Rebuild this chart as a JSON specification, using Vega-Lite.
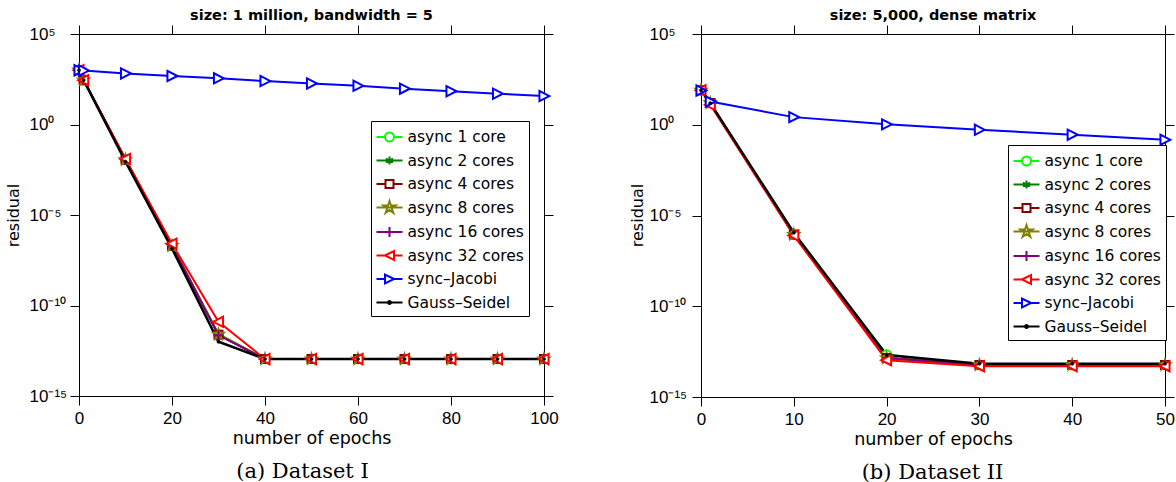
{
  "$schema": "https://vega.github.io/schema/vega-lite/v6.json",
  "background": "white",
  "padding": {"left": 5, "top": 8, "right": 2, "bottom": 0},
  "config": {
    "view": {"stroke": null},
    "axis": {"grid": false, "domainColor": "black", "tickColor": "black", "labelColor": "black", "titleColor": "black", "domainWidth": 1, "tickWidth": 1}
  },
  "data": {"values": [
    {"panel":"I","series":"async 1 core","epoch":0,"residual":1000},
    {"panel":"I","series":"async 1 core","epoch":1,"residual":282},
    {"panel":"I","series":"async 1 core","epoch":10,"residual":0.0112},
    {"panel":"I","series":"async 1 core","epoch":20,"residual":2.0e-7},
    {"panel":"I","series":"async 1 core","epoch":30,"residual":2.6e-12},
    {"panel":"I","series":"async 1 core","epoch":40,"residual":1.1e-13},
    {"panel":"I","series":"async 1 core","epoch":50,"residual":1.1e-13},
    {"panel":"I","series":"async 1 core","epoch":60,"residual":1.1e-13},
    {"panel":"I","series":"async 1 core","epoch":70,"residual":1.1e-13},
    {"panel":"I","series":"async 1 core","epoch":80,"residual":1.1e-13},
    {"panel":"I","series":"async 1 core","epoch":90,"residual":1.1e-13},
    {"panel":"I","series":"async 1 core","epoch":100,"residual":1.1e-13},
    {"panel":"I","series":"async 2 cores","epoch":0,"residual":1000},
    {"panel":"I","series":"async 2 cores","epoch":1,"residual":282},
    {"panel":"I","series":"async 2 cores","epoch":10,"residual":0.0112},
    {"panel":"I","series":"async 2 cores","epoch":20,"residual":2.0e-7},
    {"panel":"I","series":"async 2 cores","epoch":30,"residual":2.5e-12},
    {"panel":"I","series":"async 2 cores","epoch":40,"residual":1.1e-13},
    {"panel":"I","series":"async 2 cores","epoch":50,"residual":1.1e-13},
    {"panel":"I","series":"async 2 cores","epoch":60,"residual":1.1e-13},
    {"panel":"I","series":"async 2 cores","epoch":70,"residual":1.1e-13},
    {"panel":"I","series":"async 2 cores","epoch":80,"residual":1.1e-13},
    {"panel":"I","series":"async 2 cores","epoch":90,"residual":1.1e-13},
    {"panel":"I","series":"async 2 cores","epoch":100,"residual":1.1e-13},
    {"panel":"I","series":"async 4 cores","epoch":0,"residual":1000},
    {"panel":"I","series":"async 4 cores","epoch":1,"residual":282},
    {"panel":"I","series":"async 4 cores","epoch":10,"residual":0.0112},
    {"panel":"I","series":"async 4 cores","epoch":20,"residual":2.0e-7},
    {"panel":"I","series":"async 4 cores","epoch":30,"residual":2.4e-12},
    {"panel":"I","series":"async 4 cores","epoch":40,"residual":1.1e-13},
    {"panel":"I","series":"async 4 cores","epoch":50,"residual":1.1e-13},
    {"panel":"I","series":"async 4 cores","epoch":60,"residual":1.1e-13},
    {"panel":"I","series":"async 4 cores","epoch":70,"residual":1.1e-13},
    {"panel":"I","series":"async 4 cores","epoch":80,"residual":1.1e-13},
    {"panel":"I","series":"async 4 cores","epoch":90,"residual":1.1e-13},
    {"panel":"I","series":"async 4 cores","epoch":100,"residual":1.1e-13},
    {"panel":"I","series":"async 8 cores","epoch":0,"residual":1000},
    {"panel":"I","series":"async 8 cores","epoch":1,"residual":282},
    {"panel":"I","series":"async 8 cores","epoch":10,"residual":0.0112},
    {"panel":"I","series":"async 8 cores","epoch":20,"residual":2.0e-7},
    {"panel":"I","series":"async 8 cores","epoch":30,"residual":2.5e-12},
    {"panel":"I","series":"async 8 cores","epoch":40,"residual":1.1e-13},
    {"panel":"I","series":"async 8 cores","epoch":50,"residual":1.1e-13},
    {"panel":"I","series":"async 8 cores","epoch":60,"residual":1.1e-13},
    {"panel":"I","series":"async 8 cores","epoch":70,"residual":1.1e-13},
    {"panel":"I","series":"async 8 cores","epoch":80,"residual":1.1e-13},
    {"panel":"I","series":"async 8 cores","epoch":90,"residual":1.1e-13},
    {"panel":"I","series":"async 8 cores","epoch":100,"residual":1.1e-13},
    {"panel":"I","series":"async 16 cores","epoch":0,"residual":1000},
    {"panel":"I","series":"async 16 cores","epoch":1,"residual":282},
    {"panel":"I","series":"async 16 cores","epoch":10,"residual":0.0112},
    {"panel":"I","series":"async 16 cores","epoch":20,"residual":2.0e-7},
    {"panel":"I","series":"async 16 cores","epoch":30,"residual":2.3e-12},
    {"panel":"I","series":"async 16 cores","epoch":40,"residual":1.1e-13},
    {"panel":"I","series":"async 16 cores","epoch":50,"residual":1.1e-13},
    {"panel":"I","series":"async 16 cores","epoch":60,"residual":1.1e-13},
    {"panel":"I","series":"async 16 cores","epoch":70,"residual":1.1e-13},
    {"panel":"I","series":"async 16 cores","epoch":80,"residual":1.1e-13},
    {"panel":"I","series":"async 16 cores","epoch":90,"residual":1.1e-13},
    {"panel":"I","series":"async 16 cores","epoch":100,"residual":1.1e-13},
    {"panel":"I","series":"async 32 cores","epoch":0,"residual":1000},
    {"panel":"I","series":"async 32 cores","epoch":1,"residual":282},
    {"panel":"I","series":"async 32 cores","epoch":10,"residual":0.0126},
    {"panel":"I","series":"async 32 cores","epoch":20,"residual":2.6e-7},
    {"panel":"I","series":"async 32 cores","epoch":30,"residual":1.26e-11},
    {"panel":"I","series":"async 32 cores","epoch":40,"residual":1.1e-13},
    {"panel":"I","series":"async 32 cores","epoch":50,"residual":1.1e-13},
    {"panel":"I","series":"async 32 cores","epoch":60,"residual":1.1e-13},
    {"panel":"I","series":"async 32 cores","epoch":70,"residual":1.1e-13},
    {"panel":"I","series":"async 32 cores","epoch":80,"residual":1.1e-13},
    {"panel":"I","series":"async 32 cores","epoch":90,"residual":1.1e-13},
    {"panel":"I","series":"async 32 cores","epoch":100,"residual":1.1e-13},
    {"panel":"I","series":"sync–Jacobi","epoch":0,"residual":1000},
    {"panel":"I","series":"sync–Jacobi","epoch":1,"residual":955},
    {"panel":"I","series":"sync–Jacobi","epoch":10,"residual":661},
    {"panel":"I","series":"sync–Jacobi","epoch":20,"residual":479},
    {"panel":"I","series":"sync–Jacobi","epoch":30,"residual":355},
    {"panel":"I","series":"sync–Jacobi","epoch":40,"residual":251},
    {"panel":"I","series":"sync–Jacobi","epoch":50,"residual":186},
    {"panel":"I","series":"sync–Jacobi","epoch":60,"residual":138},
    {"panel":"I","series":"sync–Jacobi","epoch":70,"residual":95.5},
    {"panel":"I","series":"sync–Jacobi","epoch":80,"residual":69.2},
    {"panel":"I","series":"sync–Jacobi","epoch":90,"residual":50.1},
    {"panel":"I","series":"sync–Jacobi","epoch":100,"residual":37.2},
    {"panel":"I","series":"Gauss–Seidel","epoch":0,"residual":1000},
    {"panel":"I","series":"Gauss–Seidel","epoch":1,"residual":282},
    {"panel":"I","series":"Gauss–Seidel","epoch":10,"residual":0.0089},
    {"panel":"I","series":"Gauss–Seidel","epoch":20,"residual":1.4e-7},
    {"panel":"I","series":"Gauss–Seidel","epoch":30,"residual":1.0e-12},
    {"panel":"I","series":"Gauss–Seidel","epoch":40,"residual":1.1e-13},
    {"panel":"I","series":"Gauss–Seidel","epoch":50,"residual":1.1e-13},
    {"panel":"I","series":"Gauss–Seidel","epoch":60,"residual":1.1e-13},
    {"panel":"I","series":"Gauss–Seidel","epoch":70,"residual":1.1e-13},
    {"panel":"I","series":"Gauss–Seidel","epoch":80,"residual":1.1e-13},
    {"panel":"I","series":"Gauss–Seidel","epoch":90,"residual":1.1e-13},
    {"panel":"I","series":"Gauss–Seidel","epoch":100,"residual":1.1e-13},
    {"panel":"II","series":"async 1 core","epoch":0,"residual":79},
    {"panel":"II","series":"async 1 core","epoch":1,"residual":15.8},
    {"panel":"II","series":"async 1 core","epoch":10,"residual":8.9e-7},
    {"panel":"II","series":"async 1 core","epoch":20,"residual":2.2e-13},
    {"panel":"II","series":"async 1 core","epoch":30,"residual":5.8e-14},
    {"panel":"II","series":"async 1 core","epoch":40,"residual":5.8e-14},
    {"panel":"II","series":"async 1 core","epoch":50,"residual":5.8e-14},
    {"panel":"II","series":"async 2 cores","epoch":0,"residual":79},
    {"panel":"II","series":"async 2 cores","epoch":1,"residual":15.8},
    {"panel":"II","series":"async 2 cores","epoch":10,"residual":8.9e-7},
    {"panel":"II","series":"async 2 cores","epoch":20,"residual":1.4e-13},
    {"panel":"II","series":"async 2 cores","epoch":30,"residual":5.8e-14},
    {"panel":"II","series":"async 2 cores","epoch":40,"residual":5.8e-14},
    {"panel":"II","series":"async 2 cores","epoch":50,"residual":5.8e-14},
    {"panel":"II","series":"async 4 cores","epoch":0,"residual":79},
    {"panel":"II","series":"async 4 cores","epoch":1,"residual":15.8},
    {"panel":"II","series":"async 4 cores","epoch":10,"residual":8.9e-7},
    {"panel":"II","series":"async 4 cores","epoch":20,"residual":1.4e-13},
    {"panel":"II","series":"async 4 cores","epoch":30,"residual":5.8e-14},
    {"panel":"II","series":"async 4 cores","epoch":40,"residual":5.8e-14},
    {"panel":"II","series":"async 4 cores","epoch":50,"residual":5.8e-14},
    {"panel":"II","series":"async 8 cores","epoch":0,"residual":79},
    {"panel":"II","series":"async 8 cores","epoch":1,"residual":15.8},
    {"panel":"II","series":"async 8 cores","epoch":10,"residual":8.9e-7},
    {"panel":"II","series":"async 8 cores","epoch":20,"residual":1.4e-13},
    {"panel":"II","series":"async 8 cores","epoch":30,"residual":5.8e-14},
    {"panel":"II","series":"async 8 cores","epoch":40,"residual":5.8e-14},
    {"panel":"II","series":"async 8 cores","epoch":50,"residual":5.8e-14},
    {"panel":"II","series":"async 16 cores","epoch":0,"residual":79},
    {"panel":"II","series":"async 16 cores","epoch":1,"residual":15.8},
    {"panel":"II","series":"async 16 cores","epoch":10,"residual":8.9e-7},
    {"panel":"II","series":"async 16 cores","epoch":20,"residual":1.4e-13},
    {"panel":"II","series":"async 16 cores","epoch":30,"residual":5.8e-14},
    {"panel":"II","series":"async 16 cores","epoch":40,"residual":5.8e-14},
    {"panel":"II","series":"async 16 cores","epoch":50,"residual":5.8e-14},
    {"panel":"II","series":"async 32 cores","epoch":0,"residual":79},
    {"panel":"II","series":"async 32 cores","epoch":1,"residual":12.6},
    {"panel":"II","series":"async 32 cores","epoch":10,"residual":7.9e-7},
    {"panel":"II","series":"async 32 cores","epoch":20,"residual":1.07e-13},
    {"panel":"II","series":"async 32 cores","epoch":30,"residual":5.0e-14},
    {"panel":"II","series":"async 32 cores","epoch":40,"residual":5.0e-14},
    {"panel":"II","series":"async 32 cores","epoch":50,"residual":5.0e-14},
    {"panel":"II","series":"sync–Jacobi","epoch":0,"residual":77.6},
    {"panel":"II","series":"sync–Jacobi","epoch":1,"residual":19.1},
    {"panel":"II","series":"sync–Jacobi","epoch":10,"residual":2.63},
    {"panel":"II","series":"sync–Jacobi","epoch":20,"residual":1.05},
    {"panel":"II","series":"sync–Jacobi","epoch":30,"residual":0.525},
    {"panel":"II","series":"sync–Jacobi","epoch":40,"residual":0.282},
    {"panel":"II","series":"sync–Jacobi","epoch":50,"residual":0.148},
    {"panel":"II","series":"Gauss–Seidel","epoch":0,"residual":79},
    {"panel":"II","series":"Gauss–Seidel","epoch":1,"residual":15.5},
    {"panel":"II","series":"Gauss–Seidel","epoch":10,"residual":1.12e-6},
    {"panel":"II","series":"Gauss–Seidel","epoch":20,"residual":2.04e-13},
    {"panel":"II","series":"Gauss–Seidel","epoch":30,"residual":6.8e-14},
    {"panel":"II","series":"Gauss–Seidel","epoch":40,"residual":6.8e-14},
    {"panel":"II","series":"Gauss–Seidel","epoch":50,"residual":6.8e-14}
  ]},
  "hconcat": [
    {
      "width": 465, "height": 362,
      "title": {"text": "size: 1 million, bandwidth = 5", "font": "DejaVu Sans", "fontSize": 14.5, "fontWeight": "bold", "color": "black", "offset": 1, "anchor": "middle"},
      "transform": [{"filter": "datum.panel == 'I'"}],
      "resolve": {"axis": {"x": "independent", "y": "independent"}},
      "layer": [
        {
          "mark": {"type": "line", "strokeWidth": 2},
          "transform": [{"filter": "datum.series != 'Gauss–Seidel'"}],
          "encoding": {
            "x": {"field": "epoch", "type": "quantitative", "scale": {"domain": [0, 100], "nice": false, "zero": false},
              "axis": {"orient": "bottom", "values": [0, 20, 40, 60, 80, 100], "tickSize": 9, "labelFont": "Liberation Sans", "labelFontSize": 17, "labelPadding": 5, "labelFlush": false, "title": "number of epochs", "titleFont": "DejaVu Sans", "titleFontSize": 17.5, "titleFontWeight": "normal", "titlePadding": 3}},
            "y": {"field": "residual", "type": "quantitative", "scale": {"type": "log", "domain": [1e-15, 100000], "nice": false},
              "axis": {"orient": "left", "values": [100000, 1, 1e-5, 1e-10, 1e-15], "labelExpr": "datum.value > 1e4 ? '10⁵' : datum.value > 0.1 ? '10⁰' : datum.value > 1e-6 ? '10⁻⁵' : datum.value > 1e-11 ? '10⁻¹⁰' : '10⁻¹⁵'", "labelAlign": "left", "labelPadding": 41, "labelFlush": false, "tickSize": 9, "labelFont": "Liberation Sans", "labelFontSize": 17, "title": "residual", "titleFont": "DejaVu Sans", "titleFontSize": 16, "titleFontWeight": "normal", "titleX": -66, "titleY": 181, "titleAngle": -90, "titleBaseline": "middle", "titleAlign": "center"}},
            "color": {"field": "series", "type": "nominal",
              "scale": {"domain": ["async 1 core", "async 2 cores", "async 4 cores", "async 8 cores", "async 16 cores", "async 32 cores", "sync–Jacobi", "Gauss–Seidel"], "range": ["#00ff00", "#008000", "#800000", "#808000", "#800080", "#ff0000", "#0000ff", "#000000"]},
              "legend": {"orient": "none", "legendX": 292, "legendY": 87, "title": null, "symbolSize": 400, "symbolStrokeWidth": 2, "symbolOffset": 2.5, "labelOffset": 7, "labelFont": "DejaVu Sans", "labelFontSize": 15.5, "labelColor": "black", "labelLimit": 0, "padding": 5, "rowPadding": 3.5, "strokeColor": "black", "fillColor": "white",
                "encode": {"symbols": {"update": {
                  "shape": {"signal": "['M-1.3,0H-0.45M0.45,0H1.3M0.45,0A0.45,0.45 0 1 1 -0.45,0A0.45,0.45 0 1 1 0.45,0Z', 'M-1.3,0H1.3M0,-0.4V0.4M-0.35,-0.2L0.35,0.2M-0.35,0.2L0.35,-0.2', 'M-1.3,0H-0.4M0.4,0H1.3M-0.4,-0.4H0.4V0.4H-0.4Z', 'M-1.3,0H1.3M0,-0.65L0.146,-0.201L0.618,-0.201L0.236,0.077L0.382,0.526L0,0.248L-0.382,0.526L-0.236,0.077L-0.618,-0.201L-0.146,-0.201Z', 'M-1.3,0H1.3M0,-0.5V0.5', 'M-1.3,0H-0.45M0.45,0H1.3M-0.45,0L0.45,-0.45L0.45,0.45Z', 'M-1.3,0H-0.45M0.45,0H1.3M0.45,0L-0.45,-0.45L-0.45,0.45Z', 'M-1.3,0H1.3M0.15,0A0.15,0.15 0 1 1 -0.15,0A0.15,0.15 0 1 1 0.15,0Z'][indexof(['async 1 core', 'async 2 cores', 'async 4 cores', 'async 8 cores', 'async 16 cores', 'async 32 cores', 'sync–Jacobi', 'Gauss–Seidel'], datum.value)]"},
                  "fill": {"signal": "datum.value == 'Gauss–Seidel' ? 'black' : 'white'"},
                  "strokeWidth": {"value": 2},
                  "opacity": {"value": 1}
                }}}}}
          }
        },
        {
          "mark": {"type": "line", "strokeWidth": 2.5, "color": "black"},
          "transform": [{"filter": "datum.series == 'Gauss–Seidel'"}],
          "encoding": {
            "x": {"field": "epoch", "type": "quantitative", "scale": {"domain": [0, 100], "nice": false, "zero": false},
              "axis": {"orient": "top", "values": [0, 20, 40, 60, 80, 100], "labels": false, "tickSize": 9, "title": null}},
            "y": {"field": "residual", "type": "quantitative", "scale": {"type": "log", "domain": [1e-15, 100000], "nice": false},
              "axis": {"orient": "right", "values": [100000, 1, 1e-5, 1e-10, 1e-15], "labels": false, "tickSize": 9, "title": null}}
          }
        },
        {
          "mark": {"type": "point", "opacity": 1, "size": 115},
          "encoding": {
            "x": {"field": "epoch", "type": "quantitative", "scale": {"domain": [0, 100], "nice": false, "zero": false},
              "axis": {"orient": "bottom", "labels": false, "ticks": false, "domain": false, "title": "(a) Dataset I", "titleFont": "DejaVu Serif", "titleFontSize": 21, "titleFontWeight": "normal", "titlePadding": 64, "titleX": 223}},
            "y": {"field": "residual", "type": "quantitative", "scale": {"type": "log", "domain": [1e-15, 100000], "nice": false}, "axis": null},
            "shape": {"field": "series", "type": "nominal", "legend": null,
              "scale": {"domain": ["Gauss–Seidel", "async 1 core", "async 2 cores", "async 4 cores", "async 8 cores", "async 16 cores", "async 32 cores", "sync–Jacobi"],
                "range": ["M0.3,0A0.3,0.3 0 1 1 -0.3,0A0.3,0.3 0 1 1 0.3,0Z", "M0.8,0A0.8,0.8 0 1 1 -0.8,0A0.8,0.8 0 1 1 0.8,0Z", "M0,-0.8V0.8M-0.7,-0.4L0.7,0.4M-0.7,0.4L0.7,-0.4", "M-0.75,-0.75H0.75V0.75H-0.75Z", "M0,-1L0.2245,-0.309L0.951,-0.309L0.363,0.118L0.588,0.809L0,0.382L-0.588,0.809L-0.363,0.118L-0.951,-0.309L-0.2245,-0.309Z", "M-0.9,0H0.9M0,-0.9V0.9", "M-1,0L0.85,-0.95L0.85,0.95Z", "M1,0L-0.85,-0.95L-0.85,0.95Z"]}},
            "stroke": {"field": "series", "type": "nominal", "legend": null,
              "scale": {"domain": ["Gauss–Seidel", "async 1 core", "async 2 cores", "async 4 cores", "async 8 cores", "async 16 cores", "async 32 cores", "sync–Jacobi"], "range": ["#000000", "#00ff00", "#008000", "#800000", "#808000", "#800080", "#ff0000", "#0000ff"]}},
            "fill": {"field": "series", "type": "nominal", "legend": null,
              "scale": {"domain": ["Gauss–Seidel", "async 1 core", "async 2 cores", "async 4 cores", "async 8 cores", "async 16 cores", "async 32 cores", "sync–Jacobi"], "range": ["black", "white", "white", "white", "white", "white", "white", "white"]}},
            "strokeWidth": {"condition": {"test": "datum.series == 'Gauss–Seidel'", "value": 0.5}, "value": 2}
          }
        }
      ]
    },
    {
      "width": 464, "height": 363,
      "title": {"text": "size: 5,000, dense matrix", "font": "DejaVu Sans", "fontSize": 14.5, "fontWeight": "bold", "color": "black", "offset": 1, "anchor": "middle"},
      "transform": [{"filter": "datum.panel == 'II'"}],
      "resolve": {"axis": {"x": "independent", "y": "independent"}},
      "layer": [
        {
          "mark": {"type": "line", "strokeWidth": 2},
          "transform": [{"filter": "datum.series != 'Gauss–Seidel'"}],
          "encoding": {
            "x": {"field": "epoch", "type": "quantitative", "scale": {"domain": [0, 50], "nice": false, "zero": false},
              "axis": {"orient": "bottom", "values": [0, 10, 20, 30, 40, 50], "tickSize": 9, "labelFont": "Liberation Sans", "labelFontSize": 17, "labelPadding": 5, "labelFlush": false, "title": "number of epochs", "titleFont": "DejaVu Sans", "titleFontSize": 17.5, "titleFontWeight": "normal", "titlePadding": 3}},
            "y": {"field": "residual", "type": "quantitative", "scale": {"type": "log", "domain": [1e-15, 100000], "nice": false},
              "axis": {"orient": "left", "values": [100000, 1, 1e-5, 1e-10, 1e-15], "labelExpr": "datum.value > 1e4 ? '10⁵' : datum.value > 0.1 ? '10⁰' : datum.value > 1e-6 ? '10⁻⁵' : datum.value > 1e-11 ? '10⁻¹⁰' : '10⁻¹⁵'", "labelAlign": "left", "labelPadding": 43, "labelFlush": false, "tickSize": 9, "labelFont": "Liberation Sans", "labelFontSize": 17, "title": "residual", "titleFont": "DejaVu Sans", "titleFontSize": 16, "titleFontWeight": "normal", "titleX": -64, "titleY": 181, "titleAngle": -90, "titleBaseline": "middle", "titleAlign": "center"}},
            "color": {"field": "series", "type": "nominal",
              "scale": {"domain": ["async 1 core", "async 2 cores", "async 4 cores", "async 8 cores", "async 16 cores", "async 32 cores", "sync–Jacobi", "Gauss–Seidel"], "range": ["#00ff00", "#008000", "#800000", "#808000", "#800080", "#ff0000", "#0000ff", "#000000"]},
              "legend": {"orient": "none", "legendX": 307, "legendY": 111, "title": null, "symbolSize": 400, "symbolStrokeWidth": 2, "symbolOffset": 2.5, "labelOffset": 7, "labelFont": "DejaVu Sans", "labelFontSize": 15.5, "labelColor": "black", "labelLimit": 0, "padding": 5, "rowPadding": 3.5, "strokeColor": "black", "fillColor": "white",
                "encode": {"symbols": {"update": {
                  "shape": {"signal": "['M-1.3,0H-0.45M0.45,0H1.3M0.45,0A0.45,0.45 0 1 1 -0.45,0A0.45,0.45 0 1 1 0.45,0Z', 'M-1.3,0H1.3M0,-0.4V0.4M-0.35,-0.2L0.35,0.2M-0.35,0.2L0.35,-0.2', 'M-1.3,0H-0.4M0.4,0H1.3M-0.4,-0.4H0.4V0.4H-0.4Z', 'M-1.3,0H1.3M0,-0.65L0.146,-0.201L0.618,-0.201L0.236,0.077L0.382,0.526L0,0.248L-0.382,0.526L-0.236,0.077L-0.618,-0.201L-0.146,-0.201Z', 'M-1.3,0H1.3M0,-0.5V0.5', 'M-1.3,0H-0.45M0.45,0H1.3M-0.45,0L0.45,-0.45L0.45,0.45Z', 'M-1.3,0H-0.45M0.45,0H1.3M0.45,0L-0.45,-0.45L-0.45,0.45Z', 'M-1.3,0H1.3M0.15,0A0.15,0.15 0 1 1 -0.15,0A0.15,0.15 0 1 1 0.15,0Z'][indexof(['async 1 core', 'async 2 cores', 'async 4 cores', 'async 8 cores', 'async 16 cores', 'async 32 cores', 'sync–Jacobi', 'Gauss–Seidel'], datum.value)]"},
                  "fill": {"signal": "datum.value == 'Gauss–Seidel' ? 'black' : 'white'"},
                  "strokeWidth": {"value": 2},
                  "opacity": {"value": 1}
                }}}}}
          }
        },
        {
          "mark": {"type": "line", "strokeWidth": 2.5, "color": "black"},
          "transform": [{"filter": "datum.series == 'Gauss–Seidel'"}],
          "encoding": {
            "x": {"field": "epoch", "type": "quantitative", "scale": {"domain": [0, 50], "nice": false, "zero": false},
              "axis": {"orient": "top", "values": [0, 10, 20, 30, 40, 50], "labels": false, "tickSize": 9, "title": null}},
            "y": {"field": "residual", "type": "quantitative", "scale": {"type": "log", "domain": [1e-15, 100000], "nice": false},
              "axis": {"orient": "right", "values": [100000, 1, 1e-5, 1e-10, 1e-15], "labels": false, "tickSize": 9, "title": null}}
          }
        },
        {
          "mark": {"type": "point", "opacity": 1, "size": 115},
          "encoding": {
            "x": {"field": "epoch", "type": "quantitative", "scale": {"domain": [0, 50], "nice": false, "zero": false},
              "axis": {"orient": "bottom", "labels": false, "ticks": false, "domain": false, "title": "(b) Dataset II", "titleFont": "DejaVu Serif", "titleFontSize": 21, "titleFontWeight": "normal", "titlePadding": 64, "titleX": 231}},
            "y": {"field": "residual", "type": "quantitative", "scale": {"type": "log", "domain": [1e-15, 100000], "nice": false}, "axis": null},
            "shape": {"field": "series", "type": "nominal", "legend": null,
              "scale": {"domain": ["Gauss–Seidel", "async 1 core", "async 2 cores", "async 4 cores", "async 8 cores", "async 16 cores", "async 32 cores", "sync–Jacobi"],
                "range": ["M0.3,0A0.3,0.3 0 1 1 -0.3,0A0.3,0.3 0 1 1 0.3,0Z", "M0.8,0A0.8,0.8 0 1 1 -0.8,0A0.8,0.8 0 1 1 0.8,0Z", "M0,-0.8V0.8M-0.7,-0.4L0.7,0.4M-0.7,0.4L0.7,-0.4", "M-0.75,-0.75H0.75V0.75H-0.75Z", "M0,-1L0.2245,-0.309L0.951,-0.309L0.363,0.118L0.588,0.809L0,0.382L-0.588,0.809L-0.363,0.118L-0.951,-0.309L-0.2245,-0.309Z", "M-0.9,0H0.9M0,-0.9V0.9", "M-1,0L0.85,-0.95L0.85,0.95Z", "M1,0L-0.85,-0.95L-0.85,0.95Z"]}},
            "stroke": {"field": "series", "type": "nominal", "legend": null,
              "scale": {"domain": ["Gauss–Seidel", "async 1 core", "async 2 cores", "async 4 cores", "async 8 cores", "async 16 cores", "async 32 cores", "sync–Jacobi"], "range": ["#000000", "#00ff00", "#008000", "#800000", "#808000", "#800080", "#ff0000", "#0000ff"]}},
            "fill": {"field": "series", "type": "nominal", "legend": null,
              "scale": {"domain": ["Gauss–Seidel", "async 1 core", "async 2 cores", "async 4 cores", "async 8 cores", "async 16 cores", "async 32 cores", "sync–Jacobi"], "range": ["black", "white", "white", "white", "white", "white", "white", "white"]}},
            "strokeWidth": {"condition": {"test": "datum.series == 'Gauss–Seidel'", "value": 0.5}, "value": 2}
          }
        }
      ]
    }
  ],
  "spacing": 157,
  "bounds": "flush",
  "resolve": {"scale": {"x": "independent", "y": "independent", "color": "independent", "shape": "independent", "stroke": "independent", "fill": "independent"}, "legend": {"color": "independent"}}
}
